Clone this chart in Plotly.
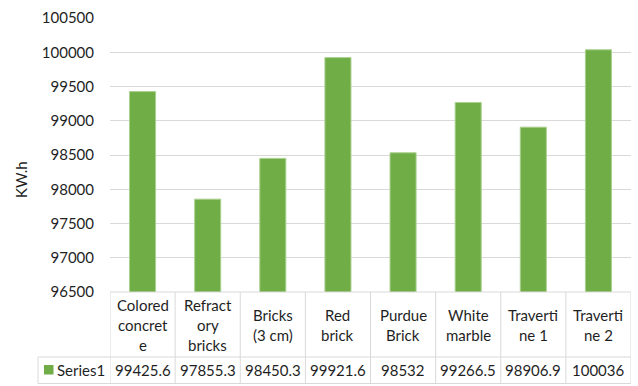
import plotly.graph_objects as go

# Energy use per facade material
categories = ["Colored concrete", "Refractory bricks", "Bricks (3 cm)", "Red brick",
              "Purdue Brick", "White marble", "Travertine 1", "Travertine 2"]
category_labels = [["Colored", "concret", "e"], ["Refract", "ory", "bricks"], ["Bricks", "(3 cm)"],
                   ["Red", "brick"], ["Purdue", "Brick"], ["White", "marble"],
                   ["Traverti", "ne 1"], ["Traverti", "ne 2"]]
series_name = "Series1"
values = [99425.6, 97855.3, 98450.3, 99921.6, 98532, 99266.5, 98906.9, 100036]
value_labels = ["99425.6", "97855.3", "98450.3", "99921.6", "98532", "99266.5", "98906.9", "100036"]
y_ticks = [96500, 97000, 97500, 98000, 98500, 99000, 99500, 100000, 100500]

BAR = "#70ad47"
BAR_EDGE = "#a9d18e"
GRID = "#d9d9d9"
BORDER = "#d9d9d9"
TEXT = "#1f1f1f"
FONT = "Lato"
FS = 15
LINE_H = 20

W, H = 638, 386
ML, MR, MT, MB = 110, 7, 18, 94
pw = W - ML - MR
ph = H - MT - MB


def py(px):
    """pixel row -> paper y"""
    return (H - MB - px) / ph


def px_(x):
    """pixel column -> paper x"""
    return (x - ML) / pw


row1_bot = py(357)
row2_bot = py(383.5)
row2_mid = (row1_bot + row2_bot) / 2
legend_left = px_(38)

fig = go.Figure()
fig.add_trace(go.Bar(
    x=list(range(len(categories))), y=values, name=series_name,
    marker=dict(color=BAR, line=dict(color=BAR_EDGE, width=1)),
    hovertext=categories,
))

n = len(categories)
line_style = dict(color=BORDER, width=1)
shapes = []
# horizontal table lines
shapes.append(dict(type="line", xref="x", yref="paper", x0=-0.5, x1=n - 0.5, y0=0, y1=0, line=line_style))
for yy in (row1_bot, row2_bot):
    shapes.append(dict(type="line", xref="paper", yref="paper", x0=legend_left, x1=1, y0=yy, y1=yy,
                       line=line_style))
# vertical table lines
for i in range(n + 1):
    shapes.append(dict(type="line", xref="x", yref="paper", x0=i - 0.5, x1=i - 0.5, y0=0, y1=row2_bot,
                       line=line_style))
shapes.append(dict(type="line", xref="paper", yref="paper", x0=legend_left, x1=legend_left,
                   y0=row1_bot, y1=row2_bot, line=line_style))
# legend key swatch
shapes.append(dict(type="rect", xref="paper", yref="paper", x0=px_(44), x1=px_(53.5),
                   y0=py(374.5), y1=py(365), fillcolor=BAR, line=dict(width=0)))

annotations = []
font = dict(family=FONT, size=FS, color=TEXT)
for i, lines in enumerate(category_labels):
    k = len(lines)
    for j, txt in enumerate(lines):
        annotations.append(dict(x=i, y=row1_bot / 2, xref="x", yref="paper", text=txt,
                                yshift=((k - 1) / 2 - j) * LINE_H,
                                showarrow=False, font=font, xanchor="center", yanchor="middle"))
for i, lab in enumerate(value_labels):
    annotations.append(dict(x=i, y=row2_mid, xref="x", yref="paper", text=lab,
                            showarrow=False, font=font, xanchor="center", yanchor="middle"))
annotations.append(dict(x=px_(55), y=row2_mid, xref="paper", yref="paper", text=series_name,
                        showarrow=False, font=font, xanchor="left", yanchor="middle"))
# axis title
annotations.append(dict(x=px_(21), y=py(180), xref="paper", yref="paper",
                        text="KW.h", textangle=-90, showarrow=False, font=font,
                        xanchor="center", yanchor="middle"))

fig.update_layout(
    width=W, height=H,
    margin=dict(l=ML, r=MR, t=MT, b=MB),
    paper_bgcolor="white", plot_bgcolor="white",
    showlegend=False,
    bargap=0.6,
    font=font,
    xaxis=dict(range=[-0.5, n - 0.5], showticklabels=False, showgrid=False, zeroline=False,
               showline=False, fixedrange=True),
    yaxis=dict(range=[96500, 100500], tickvals=y_ticks, ticktext=[str(v) for v in y_ticks],
               showgrid=True, gridcolor=GRID, gridwidth=1, zeroline=False, showline=False,
               ticks="", ticklabelstandoff=15, tickfont=font, fixedrange=True),
    shapes=shapes,
    annotations=annotations,
)

fig.write_html("out.html")
